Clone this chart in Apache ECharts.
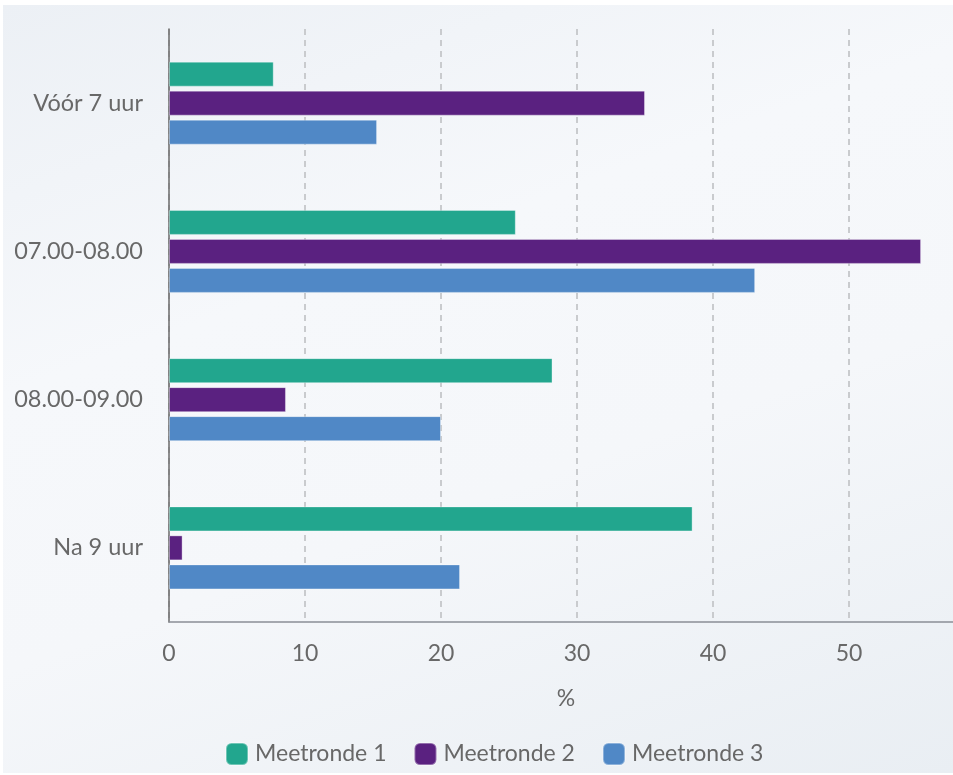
<!DOCTYPE html>
<html>
<head>
<meta charset="utf-8">
<script src="https://cdn.jsdelivr.net/npm/echarts@6/dist/echarts.min.js"></script>
<style>
  html, body { margin: 0; padding: 0; background: #ffffff; }
  #panel {
    position: absolute; left: 3px; top: 5px; width: 950px; height: 768px;
    background: linear-gradient(160deg, #ecf0f5 0%, #f6f8fb 35%, #f5f7fa 60%, #e9eef3 100%);
  }
  #chart { position: absolute; left: -3px; top: -5px; width: 953px; height: 775px; }
</style>
</head>
<body>
<div id="panel"><div id="chart"></div></div>
<script>
// Vertrektijden per meetronde (percentage)
const categories = ['Vóór 7 uur', '07.00-08.00', '08.00-09.00', 'Na 9 uur'];
const meetronde1 = [7.7, 25.5, 28.2, 38.5];
const meetronde2 = [35.0, 55.3, 8.6, 1.0];
const meetronde3 = [15.3, 43.1, 20.0, 21.4];
const seriesNames = ['Meetronde 1', 'Meetronde 2', 'Meetronde 3'];
const seriesColors = ['#22a68e', '#5a2180', '#5088c6'];

const chart = echarts.init(document.getElementById('chart'), null, { renderer: 'canvas' });
const font = 'Lato, "Noto Sans", sans-serif';
const values = [meetronde1, meetronde2, meetronde3];

chart.setOption({
  backgroundColor: 'transparent',
  animation: false,
  textStyle: { fontFamily: font },
  // plot area runs past the right edge; the 60 gridline falls outside the canvas
  grid: { left: 169, top: 29, width: 816, height: 593, outerBoundsMode: 'none', containLabel: false },
  legend: {
    left: 220, top: 737,
    itemWidth: 22, itemHeight: 22, itemGap: 27,
    icon: 'roundRect',
    textStyle: { fontFamily: font, fontSize: 23, color: '#686868', padding: [0, 0, 0, 2] },
    data: seriesNames
  },
  xAxis: {
    type: 'value', min: 0, max: 60, interval: 10,
    name: '%', nameLocation: 'middle', nameGap: 65,
    nameTextStyle: { fontFamily: font, fontSize: 23, color: '#686868', padding: [0, 22, 0, 0] },
    axisLine: { show: true, lineStyle: { color: '#8a8f96', width: 1.5 } },
    axisTick: { show: false },
    axisLabel: { fontFamily: font, fontSize: 23, color: '#686868', margin: 20 },
    splitLine: { show: true, lineStyle: { color: '#c9cbce', width: 2, type: [6, 5] } }
  },
  yAxis: {
    type: 'category', inverse: true, data: categories,
    axisLine: { show: true, lineStyle: { color: '#6a6a6a', width: 1.5 } },
    axisTick: { show: false },
    axisLabel: { fontFamily: font, fontSize: 23.5, color: '#686868', margin: 26 }
  },
  series: seriesNames.map((name, i) => ({
    name: name,
    type: 'bar',
    data: values[i],
    barWidth: 25,
    barGap: '16%',
    itemStyle: { color: seriesColors[i], borderColor: 'rgba(255,255,255,0.35)', borderWidth: 1 }
  }))
});
</script>
</body>
</html>
